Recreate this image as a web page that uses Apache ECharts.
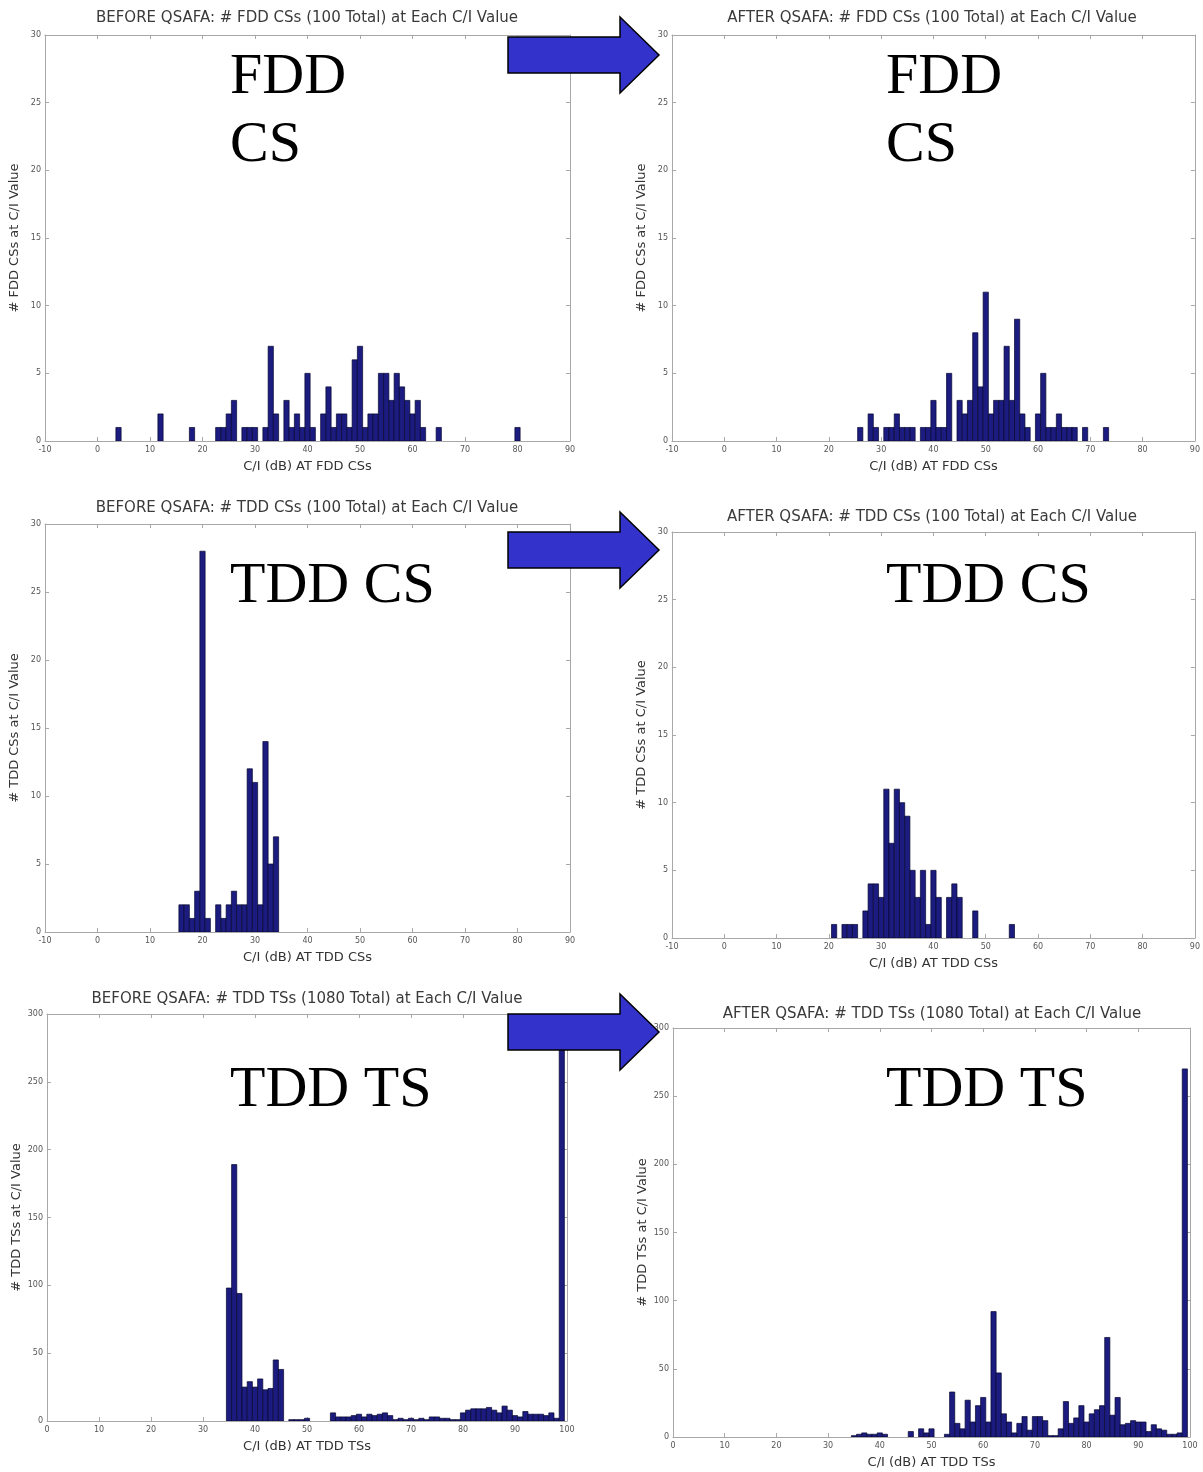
<!DOCTYPE html>
<html>
<head>
<meta charset="utf-8">
<script src="https://cdn.jsdelivr.net/npm/echarts@6/dist/echarts.min.js"></script>
<style>
  html, body { margin: 0; padding: 0; background: #fff; }
  #qsafa { width: 1203px; height: 1472px; }
</style>
</head>
<body>
<div id="qsafa"></div>
<script>
// C/I histograms, 1 dB bins: bin centre (dB) and count
var fddBeforeBins = [4, 12, 18, 23, 24, 25, 26, 28, 29, 30, 32, 33, 34, 36, 37, 38, 39, 40, 41, 43, 44, 45, 46, 47, 48, 49, 50, 51, 52, 53, 54, 55, 56, 57, 58, 59, 60, 61, 62, 65, 80];
var fddBeforeCounts = [1, 2, 1, 1, 1, 2, 3, 1, 1, 1, 1, 7, 2, 3, 1, 2, 1, 5, 1, 2, 4, 1, 2, 2, 1, 6, 7, 1, 2, 2, 5, 5, 3, 5, 4, 3, 2, 3, 1, 1, 1];

var fddAfterBins = [26, 28, 29, 31, 32, 33, 34, 35, 36, 38, 39, 40, 41, 42, 43, 45, 46, 47, 48, 49, 50, 51, 52, 53, 54, 55, 56, 57, 58, 60, 61, 62, 63, 64, 65, 66, 67, 69, 73];
var fddAfterCounts = [1, 2, 1, 1, 1, 2, 1, 1, 1, 1, 1, 3, 1, 1, 5, 3, 2, 3, 8, 4, 11, 2, 3, 3, 7, 3, 9, 2, 1, 2, 5, 1, 1, 2, 1, 1, 1, 1, 1];

var tddCsBeforeBins = [16, 17, 18, 19, 20, 21, 23, 24, 25, 26, 27, 28, 29, 30, 31, 32, 33, 34];
var tddCsBeforeCounts = [2, 2, 1, 3, 28, 1, 2, 1, 2, 3, 2, 2, 12, 11, 2, 14, 5, 7];

var tddCsAfterBins = [21, 23, 24, 25, 27, 28, 29, 30, 31, 32, 33, 34, 35, 36, 37, 38, 39, 40, 41, 43, 44, 45, 48, 55];
var tddCsAfterCounts = [1, 1, 1, 1, 2, 4, 4, 3, 11, 7, 11, 10, 9, 5, 3, 5, 1, 5, 3, 3, 4, 3, 2, 1];

var tddTsBeforeBins = [35, 36, 37, 38, 39, 40, 41, 42, 43, 44, 45, 47, 48, 49, 50,
  55, 56, 57, 58, 59, 60, 61, 62, 63, 64, 65, 66, 67, 68, 69, 70, 71, 72, 73, 74, 75, 76, 77, 78, 79,
  80, 81, 82, 83, 84, 85, 86, 87, 88, 89, 90, 91, 92, 93, 94, 95, 96, 97, 98, 99];
var tddTsBeforeCounts = [98, 189, 94, 25, 29, 25, 31, 23, 24, 45, 38, 1, 1, 1, 2,
  6, 3, 3, 3, 4, 5, 3, 5, 4, 5, 6, 4, 1, 2, 1, 2, 1, 2, 1, 3, 3, 2, 2, 1, 1,
  6, 8, 9, 9, 9, 10, 8, 6, 11, 8, 4, 3, 7, 5, 5, 5, 4, 6, 2, 275];

var tddTsAfterBins = [35, 36, 37, 38, 39, 40, 41, 46, 48, 49, 50,
  53, 54, 55, 56, 57, 58, 59, 60, 61, 62, 63, 64, 65, 66, 67, 68, 69, 70, 71, 72, 73, 74, 75, 76, 77, 78, 79,
  80, 81, 82, 83, 84, 85, 86, 87, 88, 89, 90, 91, 92, 93, 94, 95, 96, 97, 98, 99];
var tddTsAfterCounts = [1, 2, 3, 2, 2, 3, 2, 4, 6, 3, 6,
  2, 33, 10, 6, 27, 11, 23, 29, 11, 92, 47, 17, 11, 3, 10, 15, 5, 15, 15, 12, 1, 1, 6, 26, 10, 14, 23,
  11, 17, 20, 23, 73, 16, 29, 9, 10, 12, 11, 11, 4, 9, 6, 5, 2, 2, 3, 270];

var csTicks = [-10, 90, 10];   // min, max, interval (C/I dB) for the CS plots
var tsTicks = [0, 100, 10];    // for the TS plots
var csCountTicks = [0, 30, 5];
var tsCountTicks = [0, 300, 50];

var panels = [
  {title: 'BEFORE QSAFA: # FDD CSs (100 Total) at Each C/I Value', xName: 'C/I (dB) AT FDD CSs', yName: '# FDD CSs at C/I Value',
   bins: fddBeforeBins, counts: fddBeforeCounts, x: csTicks, y: csCountTicks, grid: [45, 35, 525, 406], titleAt: [307, 18]},
  {title: 'AFTER QSAFA: # FDD CSs (100 Total) at Each C/I Value', xName: 'C/I (dB) AT FDD CSs', yName: '# FDD CSs at C/I Value',
   bins: fddAfterBins, counts: fddAfterCounts, x: csTicks, y: csCountTicks, grid: [672, 35, 523, 406], titleAt: [932, 18]},
  {title: 'BEFORE QSAFA: # TDD CSs (100 Total) at Each C/I Value', xName: 'C/I (dB) AT TDD CSs', yName: '# TDD CSs at C/I Value',
   bins: tddCsBeforeBins, counts: tddCsBeforeCounts, x: csTicks, y: csCountTicks, grid: [45, 524, 525, 408], titleAt: [307, 508]},
  {title: 'AFTER QSAFA: # TDD CSs (100 Total) at Each C/I Value', xName: 'C/I (dB) AT TDD CSs', yName: '# TDD CSs at C/I Value',
   bins: tddCsAfterBins, counts: tddCsAfterCounts, x: csTicks, y: csCountTicks, grid: [672, 532, 523, 406], titleAt: [932, 517]},
  {title: 'BEFORE QSAFA: # TDD TSs (1080 Total) at Each C/I Value', xName: 'C/I (dB) AT TDD TSs', yName: '# TDD TSs at C/I Value',
   bins: tddTsBeforeBins, counts: tddTsBeforeCounts, x: tsTicks, y: tsCountTicks, grid: [47, 1014, 520, 407], titleAt: [307, 999]},
  {title: 'AFTER QSAFA: # TDD TSs (1080 Total) at Each C/I Value', xName: 'C/I (dB) AT TDD TSs', yName: '# TDD TSs at C/I Value',
   bins: tddTsAfterBins, counts: tddTsAfterCounts, x: tsTicks, y: tsCountTicks, grid: [673, 1028, 517, 409], titleAt: [932, 1014]}
];

var bigLabels = [
  ['FDD', 230, 107], ['CS', 230, 175], ['FDD', 886, 107], ['CS', 886, 175],
  ['TDD CS', 230, 616], ['TDD CS', 886, 616],
  ['TDD TS', 230, 1120], ['TDD TS', 886, 1120]
];
var arrowCentres = [55, 550, 1032];

var axisGray = '#a8a8a8';
var labelGray = '#555';
var sans = '"DejaVu Sans", Verdana, sans-serif';

function renderBar(params, api) {
  var x = api.value(0);
  var top = api.coord([x - 0.5, api.value(1)]);
  var bottom = api.coord([x + 0.5, 0]);
  return {
    type: 'rect',
    shape: {x: top[0], y: top[1], width: bottom[0] - top[0], height: bottom[1] - top[1]},
    style: {fill: '#1c1c80', stroke: '#06062e', lineWidth: 0.7}
  };
}

var grids = [], xAxes = [], yAxes = [], series = [], graphics = [];

panels.forEach(function (p, i) {
  grids.push({left: p.grid[0], top: p.grid[1], width: p.grid[2], height: p.grid[3]});

  var tickStyle = {show: true, inside: true, length: 4, lineStyle: {color: axisGray}};
  var lineStyle = {show: true, onZero: false, lineStyle: {color: axisGray, width: 1}};

  xAxes.push({
    type: 'value', gridIndex: i, min: p.x[0], max: p.x[1], interval: p.x[2],
    position: 'bottom', axisLine: lineStyle, axisTick: tickStyle, splitLine: {show: false},
    axisLabel: {fontSize: 8, color: labelGray, margin: 5, fontFamily: sans},
    name: p.xName, nameLocation: 'middle', nameGap: 19,
    nameTextStyle: {fontSize: 13, color: '#333', fontFamily: sans}
  });
  xAxes.push({
    type: 'value', gridIndex: i, min: p.x[0], max: p.x[1], interval: p.x[2],
    position: 'top', axisLine: lineStyle, axisTick: tickStyle, splitLine: {show: false},
    axisLabel: {show: false}
  });
  yAxes.push({
    type: 'value', gridIndex: i, min: p.y[0], max: p.y[1], interval: p.y[2],
    position: 'left', axisLine: lineStyle, axisTick: tickStyle, splitLine: {show: false},
    axisLabel: {fontSize: 8, color: labelGray, margin: 4, fontFamily: sans},
    name: p.yName, nameLocation: 'middle', nameGap: 24,
    nameTextStyle: {fontSize: 13, color: '#333', fontFamily: sans}
  });
  yAxes.push({
    type: 'value', gridIndex: i, min: p.y[0], max: p.y[1], interval: p.y[2],
    position: 'right', axisLine: lineStyle, axisTick: tickStyle, splitLine: {show: false},
    axisLabel: {show: false}
  });

  series.push({
    type: 'custom',
    xAxisIndex: 2 * i,
    yAxisIndex: 2 * i,
    renderItem: renderBar,
    clip: true,
    encode: {x: 0, y: 1},
    data: p.bins.map(function (b, k) { return [b, p.counts[k]]; })
  });

  graphics.push({
    type: 'text', x: p.titleAt[0], y: p.titleAt[1], z: 50,
    style: {text: p.title, textAlign: 'center', textVerticalAlign: 'middle',
            font: '15px ' + sans, fill: '#3a3a3a'}
  });
});

bigLabels.forEach(function (t) {
  graphics.push({
    type: 'text', x: t[1], y: t[2], z: 60,
    style: {text: t[0], textAlign: 'left', textVerticalAlign: 'bottom',
            font: '58px "Liberation Serif", "Times New Roman", serif', fill: '#000'}
  });
});

arrowCentres.forEach(function (cy) {
  graphics.push({
    type: 'polygon', z: 100,
    shape: {points: [[508, cy - 18], [620, cy - 18], [620, cy - 38], [659, cy],
                     [620, cy + 38], [620, cy + 18], [508, cy + 18]]},
    style: {fill: '#3333cc', stroke: '#000', lineWidth: 1.5}
  });
});

var qsafaChart = echarts.init(document.getElementById('qsafa'));
qsafaChart.setOption({
  backgroundColor: '#fff',
  animation: false,
  grid: grids,
  xAxis: xAxes,
  yAxis: yAxes,
  series: series,
  graphic: graphics
});
</script>
</body>
</html>
